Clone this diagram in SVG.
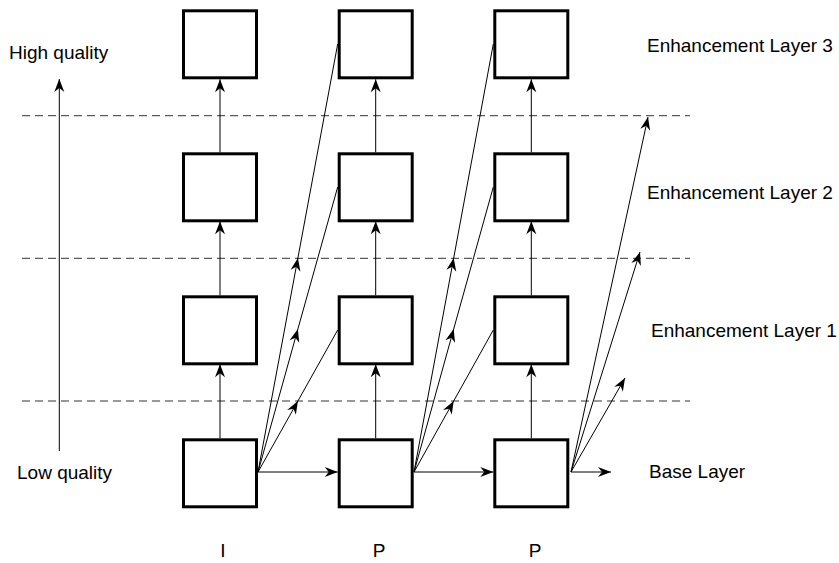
<svg xmlns="http://www.w3.org/2000/svg" width="839" height="563" viewBox="0 0 839 563">
  <style>
    .box { fill: #fff; stroke: #000; stroke-width: 3; }
    .link { fill: none; stroke: #000; stroke-width: 1; }
    .end { marker-end: url(#head); }
    .mid { marker-mid: url(#head); }
    .sep { fill: none; stroke: #333; stroke-width: 1; stroke-dasharray: 8 5; }
    text { font-family: "Liberation Sans", Arial, sans-serif; font-size: 19px; fill: #000; }
  </style>
  <defs>
    <marker id="head" markerUnits="userSpaceOnUse" markerWidth="16" markerHeight="12" viewBox="-14 -6 16 12" refX="0" refY="0" orient="auto" overflow="visible">
      <path d="M0,0 L-13,-5 L-9,0 L-13,5 Z" fill="#000"/>
    </marker>
  </defs>

  <!-- layer separators -->
  <g id="separators">
    <line class="sep" x1="22" y1="115.7" x2="690" y2="115.7"/>
    <line class="sep" x1="22" y1="258.3" x2="690" y2="258.3"/>
    <line class="sep" x1="22" y1="401" x2="690" y2="401"/>
  </g>

  <!-- quality axis -->
  <g id="axis">
    <line class="link end" x1="59.3" y1="451" x2="59.3" y2="79"/>
    <text x="9" y="59">High quality</text>
    <text x="17" y="479">Low quality</text>
  </g>

  <!-- connectors -->
  <g id="connectors">
    <!-- within each frame: layer to layer -->
    <line class="link end" x1="220" y1="438.3" x2="220" y2="364.3"/>
    <line class="link end" x1="220" y1="295.3" x2="220" y2="221.3"/>
    <line class="link end" x1="220" y1="152.3" x2="220" y2="79.3"/>
    <line class="link end" x1="375.7" y1="438.3" x2="375.7" y2="364.3"/>
    <line class="link end" x1="375.7" y1="295.3" x2="375.7" y2="221.3"/>
    <line class="link end" x1="375.7" y1="152.3" x2="375.7" y2="79.3"/>
    <line class="link end" x1="531.3" y1="438.3" x2="531.3" y2="364.3"/>
    <line class="link end" x1="531.3" y1="295.3" x2="531.3" y2="221.3"/>
    <line class="link end" x1="531.3" y1="152.3" x2="531.3" y2="79.3"/>

    <!-- base layer prediction -->
    <line class="link end" x1="258" y1="472" x2="337.7" y2="472"/>
    <line class="link end" x1="414" y1="472" x2="493.3" y2="472"/>
    <line class="link end" x1="571" y1="472" x2="611" y2="472"/>

    <!-- base layer to next frame's enhancement layers -->
    <path class="link mid" d="M258,472 L297.9,258 L337.7,44"/>
    <path class="link mid" d="M258,472 L297.9,329 L337.7,187"/>
    <path class="link mid" d="M258,472 L297.9,401 L337.7,330"/>
    <path class="link mid" d="M414,472 L453.7,258 L493.3,44"/>
    <path class="link mid" d="M414,472 L453.7,329 L493.3,187"/>
    <path class="link mid" d="M414,472 L453.7,401 L493.3,330"/>
    <line class="link end" x1="571" y1="472" x2="648" y2="117"/>
    <line class="link end" x1="571" y1="472" x2="640" y2="252"/>
    <line class="link end" x1="571" y1="472" x2="625" y2="378"/>
  </g>

  <!-- frame I -->
  <g id="i-el3"><rect class="box" x="183.5" y="10.8" width="73" height="67"/></g>
  <g id="i-el2"><rect class="box" x="183.5" y="153.8" width="73" height="67"/></g>
  <g id="i-el1"><rect class="box" x="183.5" y="296.8" width="73" height="67"/></g>
  <g id="i-base"><rect class="box" x="183.5" y="439.8" width="73" height="67"/></g>

  <!-- frame P (first) -->
  <g id="p1-el3"><rect class="box" x="339.2" y="10.8" width="73" height="67"/></g>
  <g id="p1-el2"><rect class="box" x="339.2" y="153.8" width="73" height="67"/></g>
  <g id="p1-el1"><rect class="box" x="339.2" y="296.8" width="73" height="67"/></g>
  <g id="p1-base"><rect class="box" x="339.2" y="439.8" width="73" height="67"/></g>

  <!-- frame P (second) -->
  <g id="p2-el3"><rect class="box" x="494.8" y="10.8" width="73" height="67"/></g>
  <g id="p2-el2"><rect class="box" x="494.8" y="153.8" width="73" height="67"/></g>
  <g id="p2-el1"><rect class="box" x="494.8" y="296.8" width="73" height="67"/></g>
  <g id="p2-base"><rect class="box" x="494.8" y="439.8" width="73" height="67"/></g>

  <!-- layer labels -->
  <g id="layer-labels">
    <text x="647" y="52">Enhancement Layer 3</text>
    <text x="647" y="199">Enhancement Layer 2</text>
    <text x="651" y="337">Enhancement Layer 1</text>
    <text x="649" y="478">Base Layer</text>
  </g>

  <!-- frame types -->
  <g id="frame-labels" text-anchor="middle">
    <text x="223" y="557">I</text>
    <text x="379" y="557">P</text>
    <text x="535" y="557">P</text>
  </g>
</svg>
